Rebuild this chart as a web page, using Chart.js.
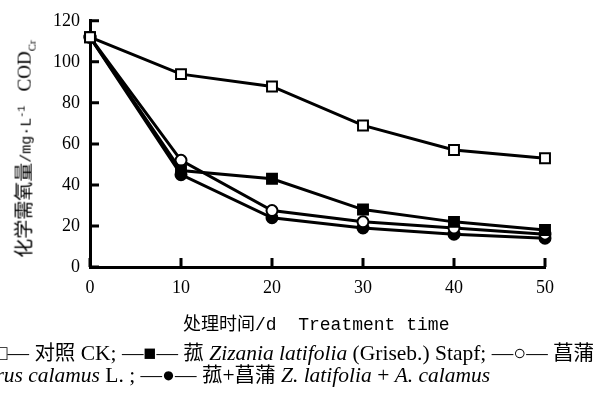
<!DOCTYPE html>
<html>
<head>
<meta charset="utf-8">
<script src="https://cdn.jsdelivr.net/npm/chart.js@4.4.1/dist/chart.umd.min.js"></script>
<style>
  html, body { margin: 0; padding: 0; background: #fff; }
  #wrap { position: relative; width: 608px; height: 401px; overflow: hidden; }
  #chart { position: absolute; left: 0; top: 0; }
  .cn { font-family: "Noto Sans CJK SC", sans-serif; }
  .mono { font-family: "Liberation Mono", monospace; }
  .serif { font-family: "Liberation Serif", serif; }
  #ytitle {
    position: absolute; left: 25px; top: 149px; white-space: nowrap; line-height: 1;
    transform: translate(-50%, -50%) rotate(-90deg); font-size: 19px; color: #000;
  }
  #xtitle {
    position: absolute; left: 183px; top: 310px; white-space: nowrap; font-size: 18px; line-height: 24px; color: #000;
  }
  .leg { position: absolute; white-space: nowrap; font-size: 21.5px; line-height: 22px; color: #000; font-family: "Liberation Serif", serif; }
  .leg .cn { font-size: 20.5px; }
  .leg i { font-style: italic; }
</style>
</head>
<body>
<div id="wrap">
  <canvas id="chart" width="608" height="401"></canvas>
  <div id="ytitle"><span class="cn">化学需氧量</span><span class="mono" style="font-size:15px">/mg·L<sup style="font-size:10px">-1</sup></span>&nbsp;&nbsp;&nbsp;<span class="serif">COD<sub style="font-size:11px">Cr</sub></span></div>
  <div id="xtitle"><span class="cn">处理时间</span><span class="mono">/d&nbsp;&nbsp;Treatment time</span></div>
  <div class="leg" style="left:-27px; top:340px">—□— <span class="cn">对照</span> CK; —■— <span class="cn">菰</span> <i>Zizania latifolia</i> (Griseb.) Stapf; —○— <span class="cn">菖蒲</span></div>
  <div class="leg" style="left:-38px; top:362px"><i>Acorus calamus</i> L. ; —●— <span class="cn">菰</span>+<span class="cn">菖蒲</span> <i>Z. latifolia</i> + <i>A. calamus</i></div>
</div>
<script>
// treatment days
const days = [0, 10, 20, 30, 40, 50];
// COD (mg/L) per treatment
const ckValues = [112, 94, 88, 69, 57, 53];
const zizaniaValues = [112, 47, 43, 28, 22, 18];
const calamusValues = [112, 52, 27.5, 22, 19, 16];
const mixedValues = [112, 45, 24, 19, 16, 14];
const yTicks = [0, 20, 40, 60, 80, 100, 120];

const tickFont = { family: 'Liberation Serif', size: 18 };

function series(label, values, style, radius, fill) {
  return {
    label,
    data: days.map((d, i) => ({ x: d, y: values[i] })),
    borderColor: '#000',
    borderWidth: 3,
    pointStyle: style,
    pointRadius: radius,
    pointBorderWidth: 2,
    pointBorderColor: '#000',
    pointBackgroundColor: fill,
    tension: 0,
    clip: false
  };
}

// tick marks pointing into the plot, like the printed figure
const inwardTicks = {
  id: 'inwardTicks',
  afterDatasetsDraw(chart) {
    const { ctx, chartArea, scales } = chart;
    const xs = scales.x, ys = scales.y;
    ctx.save();
    ctx.strokeStyle = '#000';
    ctx.lineWidth = 3;
    ctx.beginPath();
    days.forEach(v => {
      const px = xs.getPixelForValue(v);
      ctx.moveTo(px, chartArea.bottom);
      ctx.lineTo(px, chartArea.bottom - 9);
    });
    yTicks.forEach(v => {
      const py = ys.getPixelForValue(v);
      ctx.moveTo(chartArea.left, py);
      ctx.lineTo(chartArea.left + 9, py);
    });
    ctx.stroke();
    ctx.restore();
  }
};

new Chart(document.getElementById('chart'), {
  type: 'line',
  data: {
    datasets: [
      series('CK', ckValues, 'rect', 7, '#fff'),
      series('Zizania latifolia', zizaniaValues, 'rect', 7, '#000'),
      series('Acorus calamus', calamusValues, 'circle', 5.5, '#fff'),
      series('Z. latifolia + A. calamus', mixedValues, 'circle', 5.5, '#000')
    ]
  },
  options: {
    responsive: false,
    animation: false,
    layout: { padding: { left: 0, right: 63, top: 11, bottom: 60 } },
    plugins: { legend: { display: false }, tooltip: { enabled: false } },
    scales: {
      x: {
        type: 'linear',
        min: 0, max: 50,
        afterBuildTicks: s => { s.ticks = days.map(v => ({ value: v })); },
        afterFit: s => { s.height = 74; },
        border: { color: '#000', width: 3 },
        grid: { drawOnChartArea: false, drawTicks: false },
        ticks: { color: '#000', font: tickFont, padding: 10, maxRotation: 0 }
      },
      y: {
        min: 0, max: 120,
        afterBuildTicks: s => { s.ticks = yTicks.map(v => ({ value: v })); },
        afterFit: s => { s.width = 90; },
        border: { color: '#000', width: 3 },
        grid: { drawOnChartArea: false, drawTicks: false },
        ticks: { color: '#000', font: tickFont, padding: 10 }
      }
    }
  },
  plugins: [inwardTicks]
});
</script>
</body>
</html>
